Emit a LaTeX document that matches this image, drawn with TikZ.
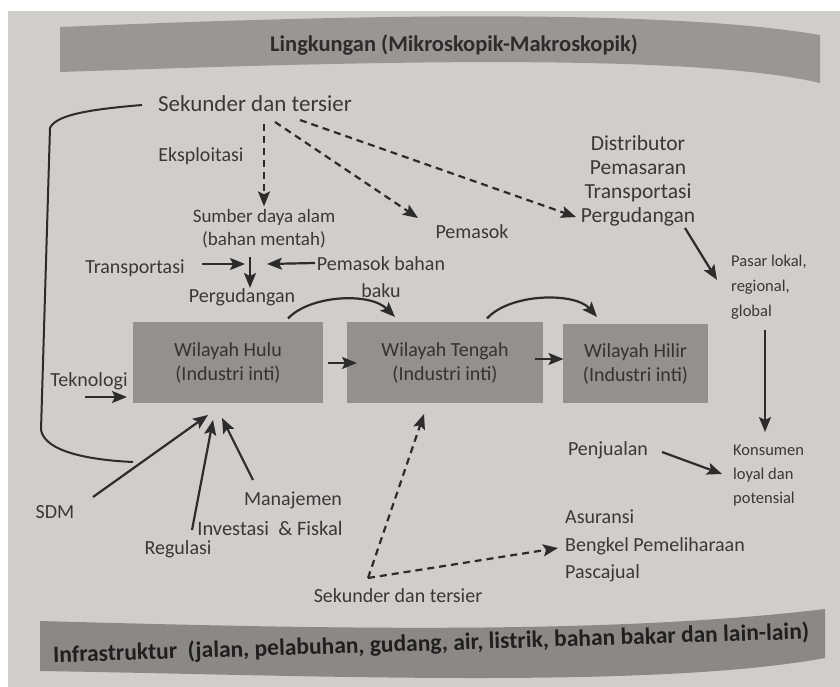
\documentclass[tikz,border=0pt]{standalone}
\usepackage{fontspec}
\setmainfont{Carlito}
\usetikzlibrary{arrows.meta}
\definecolor{paper}{RGB}{207,206,202}
\definecolor{band}{RGB}{152,151,148}
\definecolor{bandlow}{RGB}{138,137,134}
\definecolor{boxgray}{RGB}{146,145,142}
\definecolor{ink}{RGB}{45,44,44}
\definecolor{txt}{RGB}{58,56,56}
\definecolor{boxtxt}{RGB}{52,50,50}
\begin{document}
\begin{tikzpicture}[x=1pt,y=-1pt,
  lbl/.style={font=\fontsize{20}{24}\selectfont, text=txt, inner sep=0pt},
  lblc/.style={lbl, align=center},
  lbll/.style={lbl, align=left},
  small/.style={font=\fontsize{16.5}{25}\selectfont, text=txt, inner sep=0pt, align=left},
  region/.style={fill=boxgray, minimum height=81pt, inner sep=0pt, align=center,
                 font=\fontsize{20}{24}\selectfont, text=boxtxt},
  arr/.style={draw=ink, line width=2.2pt, -{Stealth[length=15pt,width=12pt,inset=3pt]}},
  darr/.style={arr, dash pattern=on 7pt off 5pt},
  plain/.style={draw=ink, line width=2pt},
]
\useasboundingbox (0,0) rectangle (840,687);
\fill[white] (0,0) rectangle (840,687);
\fill[paper] (8,11) rectangle (840,687);

% environment band
\fill[band] (60,27) .. controls (300,17) and (650,6) .. (820,35)
  -- (820,83) .. controls (680,50) and (300,64) .. (60,72) -- cycle;
\node[font=\bfseries\fontsize{22.5}{26}\selectfont, text=ink, inner sep=0pt] (env)
  at (454,45) {Lingkungan (Mikroskopik-Makroskopik)};

% infrastructure band
\fill[bandlow] (40,621) .. controls (300,628) and (600,636) .. (825,609)
  -- (825,658) .. controls (650,690) and (300,675) .. (40,671) -- cycle;
\node[font=\bfseries\fontsize{23.5}{26}\selectfont, text=black!88, inner sep=0pt, rotate=1.8]
  (infra) at (431,644)
  {Infrastruktur\ \ (jalan, pelabuhan, gudang, air, listrik, bahan bakar dan lain-lain)};

% regions
\node[region, minimum width=190pt] (hulu) at (228,362.5) {Wilayah Hulu\\(Industri inti)};
\node[region, minimum width=196pt] (tengah) at (445,362.5) {Wilayah Tengah\\(Industri inti)};
\node[region, minimum width=145pt, minimum height=79pt] (hilir) at (635.5,363.5) {Wilayah Hilir\\(Industri inti)};

% labels
\node[lbl, font=\fontsize{23}{26}\selectfont] (sek1) at (255,104) {Sekunder dan tersier};
\node[lbl] (eks) at (201,156) {Eksploitasi};
\node[lblc, font=\fontsize{19}{23}\selectfont] (sda) at (264,229) {Sumber daya alam\\(bahan mentah)};
\node[lbl] (trans) at (135,268) {Transportasi};
\node[lblc, font=\fontsize{20}{27}\selectfont] (pb) at (381,277) {Pemasok bahan\\baku};
\node[lbl] (perg) at (242,297) {Pergudangan};
\node[lbl] (pemasok) at (472,232) {Pemasok};
\node[lblc, font=\fontsize{21.5}{24}\selectfont] (dist) at (638,181)
  {Distributor\\Pemasaran\\Transportasi\\Pergudangan};
\node[small, anchor=north west] (pasar) at (731,255) {Pasar lokal,\\regional,\\global};
\node[small, anchor=north west, font=\fontsize{16.5}{24}\selectfont] (kons) at (733,445)
  {Konsumen\\loyal dan\\potensial};
\node[lbl] (penj) at (608,450) {Penjualan};
\node[lbll, anchor=north west, font=\fontsize{20}{27.5}\selectfont] (asur) at (565,510)
  {Asuransi\\Bengkel Pemeliharaan\\Pascajual};
\node[lbl] (sek2) at (398,596) {Sekunder dan tersier};
\node[lbl] (tek) at (89,381) {Teknologi};
\node[lbl] (sdm) at (55,512) {SDM};
\node[lbl] (man) at (293,500) {Manajemen};
\node[lbl, font=\fontsize{20.5}{24}\selectfont] (inv) at (270,528) {Investasi\ \ \& Fiskal};
\node[lbl] (reg) at (178,549) {Regulasi};

% free ends
\coordinate (jn) at (250,264);
\coordinate (tekin) at (85,397);
\coordinate (sk) at (368,578);

% dashed links from the upper secondary/tertiary sector
\draw[darr] ([shift={(9,20)}]sek1.center) -- ([shift={(0,-3)}]sda.north);
\draw[darr] ([shift={(20,18)}]sek1.center) -- ([shift={(-54,-14)}]pemasok.center);
\draw[darr] ([shift={(45,16)}]sek1.center) -- ([shift={(-62,36)}]dist.center);

% raw material flow
\draw[arr] ([shift={(-14,28)}]sda.center) -- ([shift={(8,-9)}]perg.center);
\draw[arr] ([shift={(67,-4)}]trans.center) -- ([shift={(-5,0)}]jn);
\draw[arr] ([shift={(-66,-14)}]pb.center) -- ([shift={(17,0)}]jn);

% chain of regions
\draw[arr] ([shift={(100,0.5)}]hulu.center) -- ([shift={(-88,0.5)}]tengah.center);
\draw[arr] ([shift={(90,-3.5)}]tengah.center) -- ([shift={(-72,-4.5)}]hilir.center);
\draw[arr] ([shift={(60,-44)}]hulu.center) .. controls (310,295) and (370,292)
  .. ([shift={(-50,-45.5)}]tengah.center);
\draw[arr] ([shift={(42,-44)}]tengah.center) .. controls (510,293) and (575,292)
  .. ([shift={(-38.5,-46.5)}]hilir.center);

% distribution side
\draw[arr] ([shift={(47,47)}]dist.center) -- ([shift={(-14,25)}]pasar.north west);
\draw[arr] ([shift={(34,75)}]pasar.north west) -- ([shift={(32,-13)}]kons.north west);
\draw[arr] ([shift={(54,2)}]penj.center) -- ([shift={(-11,29)}]kons.north west);

% inputs to the upstream region
\draw[arr] (tekin) -- ([shift={(-101,34.5)}]hulu.center);
\draw[arr] ([shift={(38,-15)}]sdm.center) -- ([shift={(-20,52.5)}]hulu.center);
\draw[arr] ([shift={(14,-19)}]reg.center) -- ([shift={(-15,57.5)}]hulu.center);
\draw[arr] ([shift={(-40,-20)}]man.center) -- ([shift={(-6,55.5)}]hulu.center);

% feedback line from SDM to the upper sector
\draw[plain] ([shift={(-113,1)}]sek1.center) .. controls (95,109) and (56,114) .. (50,128)
  -- (41,430) .. controls (45,452) and (90,460) .. (133,462);

% dashed links from the lower secondary/tertiary sector
\draw[darr] (sk) -- ([shift={(-21,51.5)}]tengah.center);
\draw[darr] (sk) -- ([shift={(-7,38)}]asur.north west);
\end{tikzpicture}
\end{document}
